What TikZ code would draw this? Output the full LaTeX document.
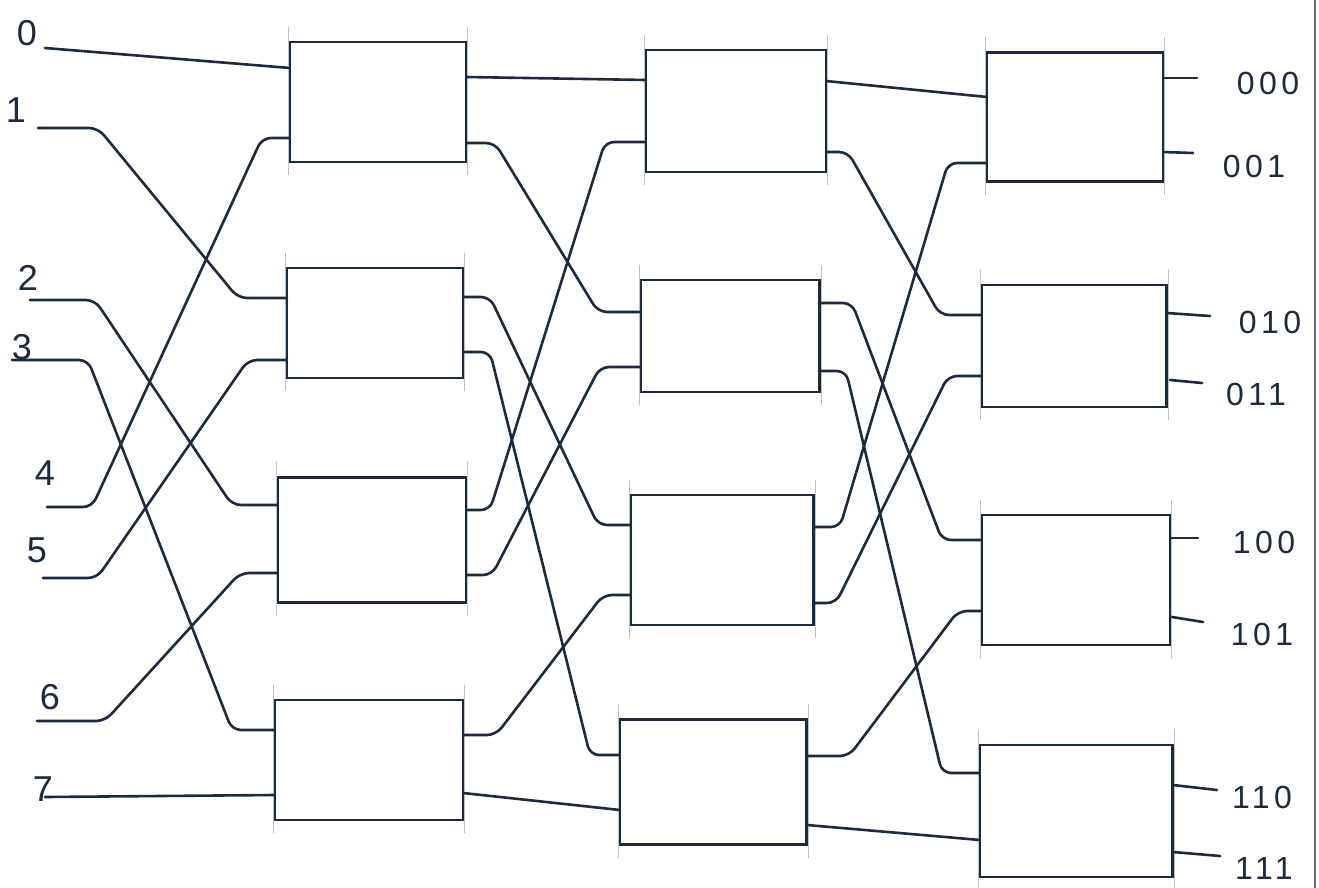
\documentclass[tikz,border=0pt]{standalone}
\usepackage{fontspec}
\setmainfont{Liberation Sans}
\newfontfamily\handfont[LetterSpace=14]{Liberation Sans}
\definecolor{ink}{HTML}{1C2A3F}
\definecolor{guide}{HTML}{B8C2CE}
\newcommand\wirebend[4]{\draw[wire] (#1) -- ++(#3,0) -- ([xshift=-#4pt]#2) -- (#2);}
\begin{document}
\begin{tikzpicture}[x=1pt,y=-1pt,
  sw/.style={draw=ink, line width=2.9pt, rectangle, inner sep=0pt, fill=none},
  wire/.style={draw=ink, line width=2.6pt, rounded corners=9pt, line cap=round, line join=round},
  guideline/.style={draw=guide, line width=0.9pt},
  inlab/.style={text=ink, font=\fontsize{36}{36}\selectfont, inner sep=0pt},
  outlab/.style={text=ink, font=\handfont\fontsize{32}{32}\selectfont, inner sep=0pt},
]
\useasboundingbox[fill=white] (0,0) rectangle (1319,888);
% notebook margin line
\draw[draw=ink!70, line width=1.6pt] (1315,0) -- (1315,888);

% switch boxes
\node[sw, minimum width=176pt, minimum height=120pt] (s1a) at (378,102) {};
\node[sw, minimum width=176pt, minimum height=110pt] (s1b) at (375,323) {};
\node[sw, minimum width=188pt, minimum height=125pt] (s1c) at (372,540) {};
\node[sw, minimum width=188pt, minimum height=120pt] (s1d) at (369,760) {};
\node[sw, minimum width=180pt, minimum height=122pt] (s2a) at (736,111) {};
\node[sw, minimum width=179pt, minimum height=112pt] (s2b) at (730,336) {};
\node[sw, minimum width=183pt, minimum height=130pt] (s2c) at (722,560) {};
\node[sw, minimum width=187pt, minimum height=125pt] (s2d) at (713,782) {};
\node[sw, minimum width=176pt, minimum height=129pt] (s3a) at (1075,117) {};
\node[sw, minimum width=185pt, minimum height=122pt] (s3b) at (1074,346) {};
\node[sw, minimum width=188pt, minimum height=130pt] (s3c) at (1076,580) {};
\node[sw, minimum width=193pt, minimum height=132pt] (s3d) at (1076,811) {};

% faint construction ticks at box edges
\foreach \b in {s1a,s1b,s1c,s1d,s2a,s2b,s2c,s2d,s3a,s3b,s3c,s3d}{
  \draw[guideline] ([yshift=14pt]\b.north west) -- ([yshift=-12pt]\b.south west);
  \draw[guideline] ([yshift=14pt]\b.north east) -- ([yshift=-12pt]\b.south east);
}

% ports
\coordinate (s1a-i0) at (290,68);  \coordinate (s1a-i1) at (290,138);
\coordinate (s1b-i0) at (287,298); \coordinate (s1b-i1) at (287,360);
\coordinate (s1c-i0) at (278,505); \coordinate (s1c-i1) at (278,573);
\coordinate (s1d-i0) at (275,730); \coordinate (s1d-i1) at (275,795);
\coordinate (s1a-o0) at (466,77);  \coordinate (s1a-o1) at (466,143);
\coordinate (s1b-o0) at (463,297); \coordinate (s1b-o1) at (463,352);
\coordinate (s1c-o0) at (466,510); \coordinate (s1c-o1) at (466,575);
\coordinate (s1d-o0) at (463,735); \coordinate (s1d-o1) at (463,793);
\coordinate (s2a-i0) at (646,80);  \coordinate (s2a-i1) at (646,142);
\coordinate (s2b-i0) at (640,312); \coordinate (s2b-i1) at (640,367);
\coordinate (s2c-i0) at (631,525); \coordinate (s2c-i1) at (631,595);
\coordinate (s2d-i0) at (620,755); \coordinate (s2d-i1) at (620,810);
\coordinate (s2a-o0) at (826,81);  \coordinate (s2a-o1) at (826,152);
\coordinate (s2b-o0) at (819,303); \coordinate (s2b-o1) at (819,371);
\coordinate (s2c-o0) at (814,527); \coordinate (s2c-o1) at (814,603);
\coordinate (s2d-o0) at (807,756); \coordinate (s2d-o1) at (807,825);
\coordinate (s3a-i0) at (987,97);  \coordinate (s3a-i1) at (987,163);
\coordinate (s3b-i0) at (982,315); \coordinate (s3b-i1) at (982,376);
\coordinate (s3c-i0) at (982,540); \coordinate (s3c-i1) at (982,611);
\coordinate (s3d-i0) at (980,773); \coordinate (s3d-i1) at (980,840);
\coordinate (s3a-o0) at (1163,78);  \coordinate (s3a-o1) at (1163,152);
\coordinate (s3b-o0) at (1167,313); \coordinate (s3b-o1) at (1170,380);
\coordinate (s3c-o0) at (1170,538); \coordinate (s3c-o1) at (1172,617);
\coordinate (s3d-o0) at (1173,785); \coordinate (s3d-o1) at (1173,852);

% input labels and wire starts
\node[inlab] (in0) at (27,33)  {0};  \coordinate (in0-s) at (45,48);
\node[inlab] (in1) at (16,110) {1};  \coordinate (in1-s) at (38,128);
\node[inlab] (in2) at (28,278) {2};  \coordinate (in2-s) at (30,300);
\node[inlab] (in3) at (22,347) {3};  \coordinate (in3-s) at (12,360);
\node[inlab] (in4) at (45,473) {4};  \coordinate (in4-s) at (47,507);
\node[inlab] (in5) at (37,550) {5};  \coordinate (in5-s) at (43,578);
\node[inlab] (in6) at (50,697) {6};  \coordinate (in6-s) at (37,721);
\node[inlab] (in7) at (43,789) {7};  \coordinate (in7-s) at (45,797);

% input wires
\draw[wire] (in0-s) -- (s1a-i0);
\wirebend{in1-s}{s1b-i0}{60}{49}
\wirebend{in2-s}{s1c-i0}{65}{46}
\wirebend{in3-s}{s1d-i0}{76}{43}
\wirebend{in4-s}{s1a-i1}{45}{28}
\wirebend{in5-s}{s1b-i1}{54}{39}
\wirebend{in6-s}{s1c-i1}{68}{38}
\draw[wire] (in7-s) -- (s1d-i1);

% stage 1 -> stage 2
\draw[wire] (s1a-o0) -- (s2a-i0);
\wirebend{s1a-o1}{s2b-i0}{29}{42}
\wirebend{s1b-o0}{s2c-i0}{27}{33}
\wirebend{s1b-o1}{s2d-i0}{27}{30}
\wirebend{s1c-o0}{s2a-i1}{24}{41}
\wirebend{s1c-o1}{s2b-i1}{26}{40}
\wirebend{s1d-o0}{s2c-i1}{33}{28}
\draw[wire] (s1d-o1) -- (s2d-i1);

% stage 2 -> stage 3
\draw[wire] (s2a-o0) -- (s3a-i0);
\wirebend{s2a-o1}{s3b-i0}{22}{42}
\wirebend{s2b-o0}{s3c-i0}{33}{40}
\wirebend{s2b-o1}{s3d-i0}{27}{38}
\wirebend{s2c-o0}{s3a-i1}{26}{39}
\wirebend{s2c-o1}{s3b-i1}{22}{34}
\wirebend{s2d-o0}{s3c-i1}{42}{24}
\draw[wire] (s2d-o1) -- (s3d-i1);

% outputs
\coordinate (out0-e) at (1197,78);
\coordinate (out1-e) at (1193,153);
\coordinate (out2-e) at (1210,316);
\coordinate (out3-e) at (1202,383);
\coordinate (out4-e) at (1198,538);
\coordinate (out5-e) at (1203,622);
\coordinate (out6-e) at (1217,790);
\coordinate (out7-e) at (1220,856);
\draw[wire] (s3a-o0) -- (out0-e);
\draw[wire] (s3a-o1) -- (out1-e);
\draw[wire] (s3b-o0) -- (out2-e);
\draw[wire] (s3b-o1) -- (out3-e);
\draw[wire] (s3c-o0) -- (out4-e);
\draw[wire] (s3c-o1) -- (out5-e);
\draw[wire] (s3d-o0) -- (out6-e);
\draw[wire] (s3d-o1) -- (out7-e);

\node[outlab] (o0) at (1268,83)  {000};
\node[outlab] (o1) at (1254,166) {001};
\node[outlab] (o2) at (1270,322) {010};
\node[outlab] (o3) at (1256,394) {011};
\node[outlab] (o4) at (1264,542) {100};
\node[outlab] (o5) at (1262,634) {101};
\node[outlab] (o6) at (1262,797) {110};
\node[outlab] (o7) at (1264,868) {111};
\end{tikzpicture}
\end{document}
